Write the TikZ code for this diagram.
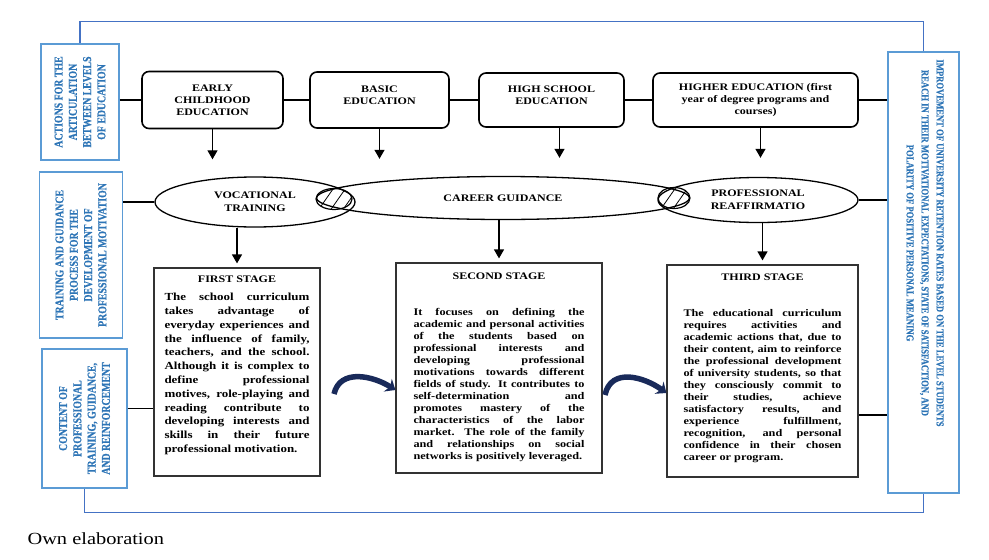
\documentclass[tikz,border=0pt]{standalone}
\usepackage{fontspec}
\setmainfont{Liberation Serif}[FakeStretch=1.2]
\newfontfamily\sidefont{Liberation Serif}[FakeStretch=0.82,FakeBold=0.6]
\usetikzlibrary{shapes.geometric,arrows.meta,positioning,patterns.meta}
\definecolor{sideblue}{RGB}{91,155,213}
\definecolor{labelblue}{RGB}{46,117,182}
\definecolor{frameblue}{RGB}{68,114,196}
\definecolor{arrownavy}{RGB}{25,42,90}
\hyphenpenalty=10000
\exhyphenpenalty=10000
\hbadness=10000
\tolerance=10000

\begin{document}
\begin{tikzpicture}[x=1pt,y=-1pt,
                    level/.style={draw,fill=white,line width=1.6pt,rounded corners=7pt,align=center,font=\bfseries\fontsize{10}{12}\selectfont},
                    phase/.style={draw,ellipse,line width=1.3pt,align=center,font=\bfseries\fontsize{10}{13}\selectfont},
                    lens/.style={draw,ellipse,inner sep=0pt,line width=1.2pt,pattern={Lines[angle=55,distance=10pt,line width=0.8pt]}},
                    stagebox/.style={draw=black!80,line width=1.2pt},
                    stagehead/.style={inner sep=0pt,font=\bfseries\fontsize{10}{12}\selectfont},
                    stagetext/.style={inner sep=0pt,align=justify},
                    sidebox/.style={draw=sideblue,line width=1.2pt},
                    sidetext/.style={text=labelblue,align=center,font=\sidefont\bfseries\fontsize{12}{14.3}\selectfont},
                    link/.style={line width=1.2pt},
                    down/.style={line width=1.3pt,-{Triangle[width=10pt,length=9pt]}},
                    frameline/.style={draw=frameblue,line width=1.5pt},
                    turn/.style={arrownavy,line width=5.5pt,-{Stealth[length=9pt,width=15pt]}}
]
\useasboundingbox (0,0) rectangle (989,560);

\node [sidebox, minimum width=78pt, minimum height=116pt] at (80,102) (acts) {};
\node [sidetext, rotate=90] at (acts) (actstext) {ACTIONS FOR THE\\ARTICULATION\\BETWEEN LEVELS\\OF EDUCATION};
\node [sidebox, minimum width=83pt, minimum height=166pt] at (81,255) (process) {};
\node [sidetext, rotate=90] at (process) (processtext) {TRAINING AND GUIDANCE\\PROCESS FOR THE\\DEVELOPMENT OF\\PROFESSIONAL MOTIVATION};
\node [sidebox, minimum width=85pt, minimum height=139pt] at (84.5,418.5) (content) {};
\node [sidetext, rotate=90] at (content) (contenttext) {CONTENT OF\\PROFESSIONAL\\TRAINING, GUIDANCE,\\AND REINFORCEMENT};
\node [sidebox, minimum width=71pt, minimum height=441pt] at (923.5,272.5) (goal) {};
\node [sidetext, rotate=-90, font=\sidefont\bfseries\fontsize{10.5}{15}\selectfont] at (925,243) (goaltext) {IMPROVEMENT OF UNIVERSITY RETENTION RATES BASED ON THE LEVEL STUDENTS\\REACH IN THEIR MOTIVATIONAL EXPECTATIONS, STATE OF SATISFACTION, AND\\POLARITY OF POSITIVE PERSONAL MEANING};
%
\node [level, minimum width=141pt, minimum height=57pt] at (212.5,100) (early) {EARLY\\CHILDHOOD\\EDUCATION};
\node [level, minimum width=139pt, minimum height=56pt, text depth=10pt] at (379.5,100) (basic) {BASIC\\EDUCATION};
\node [level, minimum width=145pt, minimum height=54pt, text depth=10pt] at (551.5,100) (high) {HIGH SCHOOL\\EDUCATION};
\node [level, minimum width=205pt, minimum height=54pt] at (755.5,100) (higher) {HIGHER EDUCATION (first\\year of degree programs and\\courses)};
%
\node [phase, minimum width=200pt, minimum height=50pt] at (255,202) (vocational) {VOCATIONAL\\TRAINING};
\node [phase, minimum width=373pt, minimum height=43pt] at (503,198) (career) {CAREER GUIDANCE};
\node [phase, minimum width=200pt, minimum height=45pt] at (758,200) (reaffirm) {PROFESSIONAL\\REAFFIRMATIO};
\node [lens, minimum width=36pt, minimum height=21pt] at (334,199) (lensleft) {};
\node [lens, minimum width=32pt, minimum height=21pt] at (674,198) (lensright) {};
%
\node [stagebox, minimum width=166pt, minimum height=208pt] at (237,372) (first) {};
\node [stagehead, below=8pt of first.north] (firsthead) {FIRST STAGE};
\node [stagetext, text width=145pt, font=\bfseries\fontsize{10.8}{13.8}\selectfont] at ([yshift=-2pt]first.center) (firstbody) {The school curriculum\linebreak takes advantage of\linebreak everyday experiences and\linebreak the influence of family,\linebreak teachers, and the school.\linebreak Although it is complex to\linebreak define professional\linebreak motives, role-playing and\linebreak reading contribute to\linebreak developing interests and\linebreak skills in their future\linebreak professional motivation.};

\node [stagebox, minimum width=206pt, minimum height=210pt] at (499,368) (second) {};
\node [stagehead, below=10pt of second.north] (secondhead) {SECOND STAGE};
\node [stagetext, text width=171pt, font=\bfseries\fontsize{10.2}{12}\selectfont] at ([yshift=-17pt]second.center) (secondbody) {It focuses on defining the\linebreak academic and personal activities\linebreak of the students based on\linebreak professional interests and\linebreak developing professional\linebreak motivations towards different\linebreak fields of study. It contributes to\linebreak self-determination and\linebreak promotes mastery of the\linebreak characteristics of the labor\linebreak market. The role of the family\linebreak and relationships on social\linebreak networks is positively leveraged.};

\node [stagebox, minimum width=191pt, minimum height=212pt] at (762.5,371) (third) {};
\node [stagehead, below=9pt of third.north] (thirdhead) {THIRD STAGE};
\node [stagetext, text width=158pt, font=\bfseries\fontsize{10.2}{12}\selectfont] at ([yshift=-15.5pt]third.center) (thirdbody) {The educational curriculum\linebreak requires activities and\linebreak academic actions that, due to\linebreak their content, aim to reinforce\linebreak the professional development\linebreak of university students, so that\linebreak they consciously commit to\linebreak their studies, achieve\linebreak satisfactory results, and\linebreak experience fulfillment,\linebreak recognition, and personal\linebreak confidence in their chosen\linebreak career or program.};
%
\draw[link] (acts.east |- early) -- (early.west);
\draw[link] (early) -- (basic);
\draw[link] (basic) -- (high);
\draw[link] (high) -- (higher);
\draw[link] (higher.east) -- (higher.east -| goal.west);
\draw[link] (process.east |- vocational) -- (vocational.west);
\draw[link] (reaffirm.east) -- (reaffirm.east -| goal.west);
\draw[link] ([yshift=10pt]content.east) -- ([yshift=10pt]content.east -| first.west);
\draw[link] ([yshift=-44pt]third.east) -- ([yshift=-44pt]third.east -| goal.west);
%
\draw[down] (early.south) -- ++(0,30) coordinate (earlytip);
\draw[down] (basic.south) -- ++(0,30) coordinate (basictip);
\draw[down] ([xshift=8pt]high.south) -- ++(0,30) coordinate (hightip);
\draw[down] ([xshift=5pt]higher.south) -- ++(0,30) coordinate (highertip);
\draw[down, shorten >=4pt] (first.north |- vocational.south) -- (first.north);
\draw[down, shorten >=4pt] (second.north |- career.south) -- (second.north);
\draw[down, shorten >=4pt] (third.north |- reaffirm.south) -- (third.north);
%
\coordinate (turnA) at (334,394);
\coordinate (turnB) at (605,395);
\draw[turn] (turnA) .. controls +(6,-26) and +(-22,-14) .. (second.west |- 0,390);
\draw[turn] (turnB) .. controls +(6,-28) and +(-22,-16) .. (third.west |- 0,393);
%
\draw[frameline] (acts.north) -- ++(0,-22) -| (goal.north);
\draw[frameline] (content.south) -- ++(0,24) -| (goal.south);

\node [anchor=west, font=\fontsize{17}{19}\selectfont] at (24,539) (source) {Own elaboration};
\end{tikzpicture}
\end{document}
